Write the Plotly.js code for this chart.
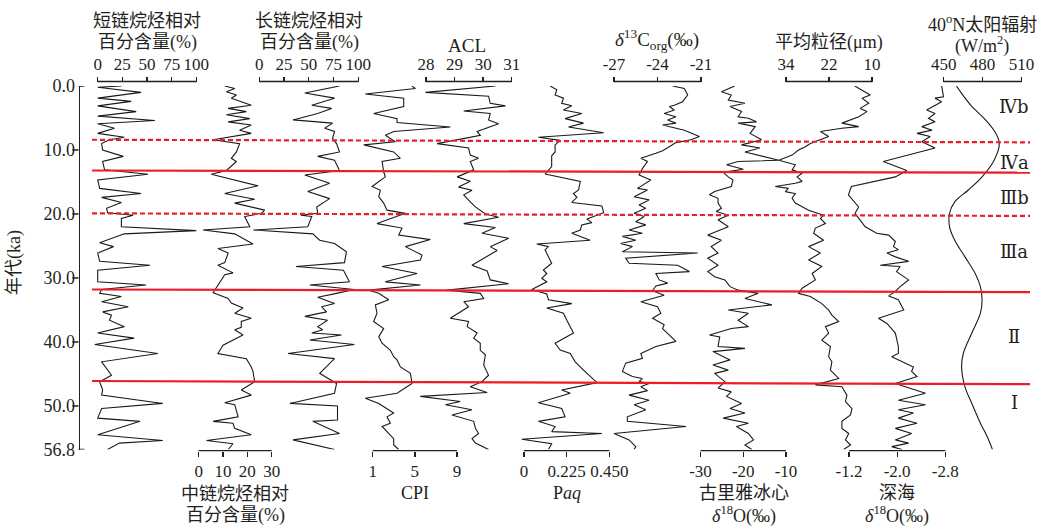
<!DOCTYPE html>
<html>
<head>
<meta charset="utf-8">
<script src="https://cdn.plot.ly/plotly-3.0.1.min.js"></script>
<style>html,body{margin:0;padding:0;background:#fff;}#chart{width:1043px;height:526px;}</style>
</head>
<body>
<div id="chart"></div>
<script>
// ---------------- DATA (age in ka, value in panel units) ----------------
const ageShort = [0.0,0.2,1.0,1.9,2.4,3.1,4.0,4.7,5.4,5.9,6.6,7.4,8.0,8.4,9.0,10.0,11.0,11.8,13.1,13.8,14.7,16.0,16.8,17.4,18.2,19.1,19.8,20.2,20.7,22.0,22.6,23.1,24.5,25.1,26.1,27.4,28.0,28.8,30.6,31.1,31.8,32.4,32.9,33.7,34.5,35.3,35.8,36.6,37.6,38.6,39.4,40.4,41.8,43.1,45.2,46.2,47.5,48.3,49.6,50.4,51.9,52.4,54.5,55.4,55.8,56.8];
const shortChain = [24,0,44,0,34,0,39,0,58,0,17,0,27,12,4,5,26,5,7,51,0,2,44,4,24,9,10,36,24,24,100,27,2,16,0,2,53,0,0,49,4,2,24,4,31,5,14,12,27,0,37,-3,61,4,14,2,5,4,66,4,0,43,0,66,22,10];

const ageMid = [0.0,0.4,0.9,1.4,1.9,3.0,3.5,4.0,4.5,5.1,5.6,6.1,6.9,7.4,8.4,9.0,10.3,11.3,11.8,13.2,13.8,15.6,16.8,17.7,18.3,19.4,19.9,20.4,22.0,22.5,23.1,24.7,25.4,26.1,27.6,28.0,29.2,29.5,32.3,33.2,33.9,34.7,35.5,36.3,36.8,37.7,38.1,38.9,40.5,41.8,42.6,43.9,44.6,46.2,47.5,48.3,49.5,49.8,51.7,52.4,52.7,53.5,54.5,55.4,55.9,56.8];
const midChain = [10.7,14.8,11.4,15.5,13.4,21.6,12.1,19.6,11.4,21.0,12.1,21.6,16.8,21.6,5.9,16.8,15.5,13.4,15.5,11.4,5.2,24.4,10.7,23.0,14.8,27.1,25.8,18.9,21.0,1.8,14.8,22.3,7.9,12.1,10.7,7.9,14.1,10.7,5.9,12.1,13.4,18.2,14.8,21.6,17.5,17.5,14.8,18.2,10.0,7.9,19.6,21.6,22.3,23.0,17.5,21.6,10.7,14.8,16.2,5.9,14.1,14.8,21.6,3.2,14.1,12.1];

const ageLong = [0.0,1.1,1.9,3.0,3.5,4.3,5.3,5.8,6.6,7.1,8.2,9.0,10.3,11.0,11.6,13.2,13.9,15.2,16.5,17.6,18.9,19.9,20.2,20.4,22.0,22.5,23.1,24.1,24.6,25.9,27.6,28.2,28.8,30.6,31.1,31.8,32.4,33.0,34.0,34.5,35.3,36.0,36.6,37.6,38.1,38.6,38.9,39.7,40.4,41.8,42.6,44.9,46.5,48.0,49.6,50.0,52.2,52.4,54.3,55.3,56.8];
const longChain = [81,46,76,53,73,59,34,74,66,76,74,78,81,59,76,81,46,71,49,71,58,59,42,53,49,-6,54,61,76,88,86,37,85,91,51,96,78,59,76,63,68,46,69,59,64,53,83,51,96,29,76,61,78,76,31,79,79,54,81,34,76];

const ageCPI = [0.0,0.4,1.25,1.9,3.2,4.3,5.1,5.7,6.4,7.1,7.7,8.7,9.2,10.3,11.3,11.8,13.4,14.2,15.7,16.3,17.3,18.3,19.4,19.9,21.5,22.2,23.3,24.0,25.1,26.4,27.2,28.2,29.3,30.6,31.1,31.9,32.4,33.4,34.2,35.5,36.8,37.9,39.2,40.2,41.3,42.3,42.8,43.9,44.9,46.5,48.0,48.8,49.6,51.1,51.7,52.7,53.2,54.3,55.1,56.1,56.8];
const cpi = [4.73,5.05,0.30,3.94,3.94,1.09,3.31,3.31,8.37,2.99,2.20,3.15,0.15,2.99,3.63,1.89,2.04,2.20,0.94,1.73,1.57,2.04,2.36,4.10,1.41,3.78,3.47,6.47,4.10,5.68,5.53,1.89,5.21,2.20,5.53,0.62,1.57,2.52,1.25,1.41,1.09,2.04,1.57,1.89,2.68,2.99,3.31,3.63,4.58,4.73,3.31,0.30,1.57,2.99,2.36,2.68,1.89,2.52,2.99,2.99,3.47];

const ageACL = [0,0.2,1.0,1.6,2.7,3.1,3.9,4.3,5.3,5.9,7.1,7.7,9.0,9.7,10.8,11.3,11.8,13.1,14.2,14.9,15.8,16.3,17.0,18.1,18.9,20.0,20.5,21.5,22.1,23.0,23.8,25.1,25.7,28.0,28.9,30.3,30.9,31.9,32.4,33.2,33.7,34.5,36.3,36.8,37.6,38.6,39.4,40.2,41.3,42.0,43.6,45.2,45.7,46.2,47.0,47.9,48.5,49.3,49.8,50.6,51.4,52.4,53.5,54.3,55.1,55.8,56.8];
const acl = [30.43,29.96,27.98,30.19,30.25,30.78,29.32,30.25,30.19,30.54,29.79,29.90,28.39,29.49,29.55,29.84,29.55,29.67,29.09,29.55,29.14,29.61,29.32,29.55,29.73,30.08,30.54,29.32,30.43,29.96,30.89,30.25,30.49,29.61,30.14,30.25,30.89,28.74,29.90,30.02,29.32,29.49,28.85,29.49,29.44,29.79,29.67,29.90,29.90,30.08,30.02,30.19,30.08,29.96,29.55,30.14,27.80,29.20,28.68,29.61,28.91,29.67,29.73,29.84,29.61,29.73,30.19];

const agePaq = [0,0.6,1.4,1.9,2.7,3.1,3.75,4.3,5.1,5.8,6.4,7.3,8.0,8.5,9.2,10.3,10.9,12.6,13.75,14.9,16.25,16.8,17.4,18.2,18.75,19.8,20.8,21.35,21.7,22.5,23.0,24.1,24.7,25.1,25.6,27.7,28.75,29.3,30.05,30.6,31.8,32.5,33.4,34.0,34.7,35.5,36.6,37.6,38.6,40.2,41.25,41.8,43.1,44.4,45.2,46.35,47.5,48.0,49.5,50.4,51.7,52.4,53.2,54.0,54.3,55.2,55.9,56.8];
const paq = [0.138,0.173,0.164,0.208,0.199,0.252,0.208,0.305,0.217,0.314,0.235,0.420,0.076,0.191,0.164,0.164,0.146,0.146,0.111,0.297,0.288,0.261,0.279,0.252,0.411,0.420,0.332,0.358,0.305,0.297,0.252,0.349,0.067,0.129,0.111,0.146,0.102,0.120,0.094,0.120,0.041,0.120,0.129,0.252,0.120,0.208,0.226,0.244,0.261,0.164,0.191,0.244,0.270,0.314,0.341,0.385,0.199,0.244,0.076,0.199,0.217,0.076,0.164,0.146,0.411,-0.012,0.146,0.129];

const ageC13 = [0,0.4,1.4,2.45,3.0,3.2,3.75,4.3,4.8,5.3,5.8,6.1,6.9,7.9,8.4,8.85,9.5,10.1,10.5,11.3,11.8,12.9,13.9,14.7,16.0,16.25,17.3,17.8,18.6,19.1,19.9,20.4,21.2,21.7,22.5,23.0,23.5,24.1,24.6,25.1,25.9,26.1,26.9,27.7,28.0,29.0,29.3,30.3,30.8,31.25,32.0,32.7,33.7,34.5,35.5,36.3,37.3,37.9,39.9,40.7,41.8,42.55,43.3,44.6,45.4,45.7,46.2,46.5,47.0,47.6,48.3,49.1,49.8,50.6,51.7,52.4,53.2,54.3,55.3,56.35,56.8];
const d13C = [-22.96,-22.15,-21.92,-22.27,-22.84,-23.19,-22.84,-23.54,-22.73,-23.30,-22.73,-23.65,-22.15,-21.11,-21.69,-22.73,-23.19,-23.65,-24.11,-25.15,-24.69,-25.04,-25.27,-24.46,-25.38,-24.69,-25.61,-24.58,-25.27,-24.81,-25.61,-24.92,-25.50,-24.81,-25.96,-25.04,-26.42,-25.50,-26.54,-25.73,-26.42,-21.23,-26.19,-25.96,-22.61,-21.80,-24.11,-23.88,-23.30,-24.11,-24.34,-23.54,-25.15,-24.00,-23.77,-24.34,-23.54,-23.65,-22.73,-24.11,-25.15,-25.04,-26.19,-26.42,-25.73,-25.04,-25.27,-24.58,-25.15,-24.69,-25.96,-24.58,-25.61,-24.81,-26.08,-26.08,-22.03,-27.0,-25.96,-25.50,-25.61];

const ageGuliya = [0,0.9,1.4,2.2,2.7,3.2,4.0,4.8,5.05,5.6,5.8,6.35,7.4,8.4,9.2,9.7,10.3,11.6,11.8,12.3,13.0,13.5,14.2,14.7,15.7,16.5,17.0,17.55,18.3,19.1,19.6,20.2,20.9,22.0,23.3,24.1,25.1,26.1,26.9,28.0,29.0,29.8,30.3,31.35,31.9,32.4,33.2,34.2,35.0,35.5,36.6,37.6,37.9,38.9,39.2,40.7,41.0,41.5,42.8,43.6,44.4,44.9,46.2,47.2,47.8,48.5,49.6,50.4,51.1,51.9,52.7,53.2,54.3,55.3,56.1,56.8];
const guliyaO18 = [-22.0,-25.1,-22.8,-23.5,-19.6,-23.1,-20.4,-21.2,-18.8,-16.9,-21.2,-17.2,-18.4,-15.7,-20.4,-16.1,-19.6,-11.7,-21.2,-23.9,-20.0,-24.7,-23.5,-22.4,-22.8,-26.7,-27.9,-25.9,-25.9,-25.1,-26.3,-23.5,-25.9,-23.5,-28.3,-25.1,-27.5,-25.9,-28.3,-25.9,-28.3,-26.7,-24.3,-23.1,-21.2,-16.5,-19.6,-13.3,-23.5,-18.8,-21.2,-18.8,-22.8,-27.9,-25.5,-25.9,-19.6,-27.1,-23.1,-27.1,-23.5,-26.7,-24.3,-25.9,-22.8,-23.9,-20.4,-23.1,-19.6,-24.7,-18.8,-21.6,-18.8,-17.6,-19.6,-18.0];

const ageGrain = [0,1.4,1.9,2.7,3.5,4.0,4.8,5.8,6.35,6.6,7.1,7.9,9.0,9.5,10.0,10.8,11.6,11.8,12.3,13.1,13.65,14.2,14.9,15.2,15.7,16.0,16.5,16.8,17.55,18.3,19.4,20.2,20.7,21.5,22.2,23.0,24.1,25.1,26.1,27.2,28.2,29.3,30.3,31.6,32.4,32.9,34.0,35.0,35.8,36.8,37.6,38.6,39.7,40.7,42.3,43.1,44.4,45.7,46.7,47.0,48.3,49.3,50.4,51.4,52.4,53.5,54.3,55.3,56.1,56.8];
const grainSize = [14.8,10.5,12.8,10.9,13.3,11.4,13.7,18.4,13.7,18.4,24.4,22.1,27.2,28.6,30.5,32.3,36.0,34.7,31.4,32.3,29.5,30.9,29.5,31.4,37.0,33.3,34.2,31.4,32.3,31.4,27.7,23.5,24.4,23.0,25.8,26.3,23.5,27.7,24.4,27.7,24.0,26.7,25.8,29.5,30.5,27.2,24.0,22.1,21.2,19.3,23.0,22.1,24.0,21.6,22.1,21.2,21.6,19.3,25.8,18.4,17.0,17.4,15.6,16.0,18.4,18.4,16.5,17.4,16.0,17.9];

const ageMarine = [0,1.7,1.9,2.45,3.75,4.3,5.05,5.6,6.35,6.9,7.4,7.9,8.7,9.7,11.8,13.2,14.2,15.7,17.0,18.9,19.9,22.0,23.0,23.3,24.3,25.1,25.6,26.1,26.7,27.4,28.0,28.2,29.0,30.3,31.35,32.1,32.8,33.4,35.0,36.3,37.1,38.6,40.7,41.8,42.3,43.9,44.6,45.4,46.5,48.0,49.1,49.8,50.6,51.1,51.9,52.7,53.5,54.3,55.3,55.8,56.35,56.8];
const marineO18 = [-2.74,-2.77,-2.63,-2.74,-2.49,-2.63,-2.52,-2.63,-2.41,-2.58,-2.33,-2.55,-2.41,-2.63,-1.77,-2.16,-1.97,-1.24,-1.19,-1.36,-1.30,-1.47,-1.66,-1.86,-1.97,-1.94,-2.02,-1.83,-1.97,-2.19,-1.72,-2.05,-1.99,-2.19,-2.05,-1.97,-1.86,-2.02,-2.11,-1.69,-1.83,-1.97,-2.02,-2.02,-1.91,-2.27,-2.24,-2.33,-1.97,-2.47,-2.02,-2.47,-2.02,-2.27,-2.02,-2.33,-1.97,-2.24,-1.97,-2.19,-1.91,-2.08];

const ageInsol = [0,1.15,3.2,5.3,7.4,9.0,11.6,14.2,16.25,18.1,19.9,22.0,24.1,26.7,29.3,31.35,33.4,35.5,38.6,41.8,43.9,47.0,49.6,52.7,54.8,56.8];
const insolation = [459.8,463.8,471.7,482.3,490.2,492.9,488.9,479.6,469.0,458.5,454.5,454.5,458.5,466.4,474.3,478.3,479.6,478.3,471.7,465.1,463.8,466.4,471.7,478.3,483.6,487.6];

// age axis ticks
const ageTicks = [0, 10, 20, 30, 40, 50, 56.8];
const ageTickText = ['0.0','10.0','20.0','30.0','40.0','50.0','56.8'];

// stage boundaries (ka) at the left and right ends of each line
const boundaryLeft  = [8.4, 13.2, 19.9, 31.8, 46.1];
const boundaryRight = [8.8, 13.55, 20.3, 32.2, 46.6];
const boundaryDashed = [true, false, true, false, false];

// stage labels
const zoneLabels = ['Ⅳb','Ⅳa','Ⅲb','Ⅲa','Ⅱ','Ⅰ'];
const zoneAges = [3.2, 12.0, 17.4, 25.9, 39.2, 49.5];

// ---------------- LAYOUT ----------------
const W = 1043, H = 526;
const PY0 = 86, PY1 = 449.5;          // pixel rows of age 0 and 56.8
const TOPPOS = 1 - 81.5 / H, BOTPOS = 1 - 450.7 / H;
const INK = '#231f20';
const FONT = "'Liberation Serif','Times New Roman','Noto Sans CJK SC',serif";
const CJK = "'Liberation Serif','Noto Sans CJK SC',serif";

function rng(a, pa, b, pb) {
  const s = (pb - pa) / (b - a);
  const r0 = a - pa / s;
  return [r0, r0 + W / s];
}

const panels = [
  {ax:'x',   ages:ageShort,  vals:shortChain, side:'top',    t:[0,25,50,75,100], tt:['0','25','50','75','100'], pa:97.7, pb:196.3},
  {ax:'x2',  ages:ageMid,    vals:midChain,   side:'bottom', t:[0,10,20,30], tt:['0','10','20','30'], pa:198.7, pb:271.7},
  {ax:'x3',  ages:ageLong,   vals:longChain,  side:'top',    t:[0,25,50,75,100], tt:['0','25','50','75','100'], pa:259.3, pb:358.3},
  {ax:'x4',  ages:ageCPI,    vals:cpi,        side:'bottom', t:[1,5,9], tt:['1','5','9'], pa:372.7, pb:457},
  {ax:'x5',  ages:ageACL,    vals:acl,        side:'top',    t:[28,29,30,31], tt:['28','29','30','31'], pa:426, pb:511.7},
  {ax:'x6',  ages:agePaq,    vals:paq,        side:'bottom', t:[0,0.225,0.45], tt:['0','0.225','0.450'], pa:524, pb:609.3},
  {ax:'x7',  ages:ageC13,    vals:d13C,       side:'top',    t:[-27,-24,-21], tt:['-27','-24','-21'], pa:614, pb:701},
  {ax:'x8',  ages:ageGuliya, vals:guliyaO18,  side:'bottom', t:[-30,-20,-10], tt:['-30','-20','-10'], pa:700.5, pb:786},
  {ax:'x9',  ages:ageGrain,  vals:grainSize,  side:'top',    t:[34,22,10], tt:['34','22','10'], pa:786, pb:872},
  {ax:'x10', ages:ageMarine, vals:marineO18,  side:'bottom', t:[-1.2,-2.0,-2.8], tt:['-1.2','-2.0','-2.8'], pa:849, pb:945.3},
  {ax:'x11', ages:ageInsol,  vals:insolation, side:'top',    t:[450,480,510], tt:['450','480','510'], pa:943.7, pb:1021.5, spline:true}
];

const traces = [];
const layout = {
  width: W, height: H,
  margin: {l:0, r:0, t:0, b:0, pad:0},
  paper_bgcolor: '#ffffff', plot_bgcolor: 'rgba(0,0,0,0)',
  showlegend: false,
  font: {family: FONT, color: INK, size: 17},
  yaxis: {
    domain: [1 - PY1 / H, 1 - PY0 / H],
    range: [56.8, 0], autorange: false,
    anchor: 'free', position: 78.5 / W,
    showline: true, linecolor: INK, linewidth: 1.3,
    ticks: '', tickvals: ageTicks, ticktext: ageTickText,
    ticklabelstandoff: 0,
    tickfont: {family: FONT, size: 18, color: INK},
    showgrid: false, zeroline: false, automargin: false
  },
  shapes: [],
  annotations: []
};

panels.forEach((p, i) => {
  const key = p.ax === 'x' ? 'xaxis' : 'xaxis' + p.ax.slice(1);
  const a = p.t[0], b = p.t[p.t.length - 1];
  const pos = p.side === 'top' ? TOPPOS : BOTPOS;
  const axis = {
    domain: [0, 1], range: rng(a, p.pa, b, p.pb), autorange: false,
    anchor: 'free', position: pos, side: p.side,
    showline: false, showgrid: false, zeroline: false,
    ticks: 'outside', ticklen: 5, tickwidth: 1.3, tickcolor: INK,
    tickvals: p.t, ticktext: p.tt,
    tickfont: {family: FONT, size: 17, color: INK},
    automargin: false
  };
  if (i > 0) axis.overlaying = 'x';
  layout[key] = axis;
  // bracket line between first and last tick
  layout.shapes.push({type:'line', xref:p.ax, yref:'paper', x0:a, x1:b, y0:pos, y1:pos,
    line:{color:INK, width:1.3}});
  traces.push({
    type:'scatter', mode:'lines', x:p.vals, y:p.ages, xaxis:p.ax, yaxis:'y',
    line:{color:'#1a1a1a', width:1.1, shape: p.spline ? 'spline' : 'linear'},
    hoverinfo:'skip'
  });
});

// age-axis tick stubs
ageTicks.forEach(v => {
  const inward = (v === 0 || v === 56.8);
  layout.shapes.push({type:'line', xref:'paper', yref:'y',
    x0: inward ? 78.5 / W : 72.5 / W, x1: inward ? 84.5 / W : 78.5 / W, y0:v, y1:v,
    line:{color:INK, width:1.3}});
});

// red stage boundaries
boundaryLeft.forEach((v, i) => {
  layout.shapes.push({type:'line', xref:'paper', yref:'y',
    x0: 92 / W, x1: 1030 / W, y0: v, y1: boundaryRight[i],
    line:{color:'#ee1c24', width:2.2, dash: boundaryDashed[i] ? '5px,3px' : 'solid'}});
});

// stage labels
zoneLabels.forEach((t, i) => {
  layout.annotations.push({text:t, xref:'paper', yref:'y', x:1014 / W, y:zoneAges[i],
    showarrow:false, xanchor:'center', yanchor:'middle',
    font:{family:"'DejaVu Serif','Liberation Serif',serif", size:18, color:INK}});
});

// titles
function ann(text, px, py, size, fam) {
  layout.annotations.push({text:text, xref:'paper', yref:'paper', x:px / W, y:1 - py / H,
    showarrow:false, xanchor:'center', yanchor:'middle',
    font:{family: fam || CJK, size: size || 18, color: INK}});
}
ann('短链烷烃相对', 147, 21);
ann('百分含量(%)', 147, 42);
ann('长链烷烃相对', 309, 21);
ann('百分含量(%)', 309, 42);
ann('ACL', 467, 46, 19, FONT);
ann('<i>δ</i><sup>13</sup>C<sub>org</sub>(‰)', 657, 40, 19, FONT);
ann('平均粒径(μm)', 829, 43);
ann('40<sup>o</sup>N太阳辐射', 982, 24);
ann('(W/m<sup>2</sup>)', 982, 45, 18, FONT);
ann('中链烷烃相对', 235, 494);
ann('百分含量(%)', 235, 515);
ann('CPI', 415, 493, 18, FONT);
ann('P<i>aq</i>', 567, 493, 18, FONT);
ann('古里雅冰心', 744, 493);
ann('<i>δ</i><sup>18</sup>O(‰)', 744, 515, 18, FONT);
ann('深海', 897, 493);
ann('<i>δ</i><sup>18</sup>O(‰)', 897, 515, 18, FONT);
layout.annotations.push({text:'年代(ka)', xref:'paper', yref:'paper', x:14 / W, y:1 - 263 / H,
  textangle:-90, showarrow:false, xanchor:'center', yanchor:'middle',
  font:{family:CJK, size:18, color:INK}});

Plotly.newPlot('chart', traces, layout, {staticPlot:true, displayModeBar:false});
</script>
</body>
</html>
